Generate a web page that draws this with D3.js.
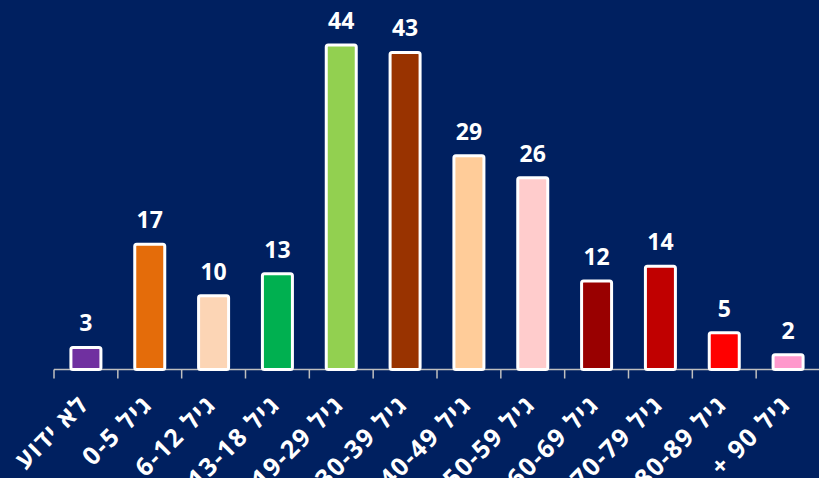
<!DOCTYPE html>
<html>
<head>
<meta charset="utf-8">
<script src="https://cdn.jsdelivr.net/npm/d3@7"></script>
<style>
  html, body { margin: 0; padding: 0; background: #002060; overflow: hidden; }
  svg { display: block; }
</style>
</head>
<body>
<script>
// Width og height
const w = 819;
const h = 478;

// Data - kategorier, værdier og farver
const categories = ["לא ידוע", "גיל 0-5", "גיל 6-12", "גיל 13-18", "גיל 19-29", "גיל 30-39",
  "גיל 40-49", "גיל 50-59", "גיל 60-69", "גיל 70-79", "גיל 80-89", "גיל 90 +"];
const values = [3, 17, 10, 13, 44, 43, 29, 26, 12, 14, 5, 2];
const barColors = ["#7030A0", "#E46C0A", "#FCD5B5", "#00B050", "#92D050", "#993300",
  "#FFCC99", "#FFCCCC", "#990000", "#C00000", "#FF0000", "#FF99CC"];

const font = "'Open Sans', 'DejaVu Sans', sans-serif";

const svg = d3.select("body").append("svg").attr("width", w).attr("height", h);

svg.append("rect").attr("width", w).attr("height", h).attr("fill", "#002060");

// Skalaer
const xScale = d3.scaleBand()
  .domain(categories)
  .range([54, 820])
  .paddingInner(0)
  .paddingOuter(0);

const yScale = d3.scaleLinear()
  .domain([0, 44])
  .range([369.5, 45]);

const barW = 30;

// X-akse med tickmarks ved båndenes start
const axisG = svg.append("g").attr("transform", "translate(0," + yScale(0) + ")");
axisG.append("line")
  .attr("x1", 54).attr("x2", 820)
  .attr("stroke", "#BFBFBF").attr("stroke-width", 1.5);
axisG.selectAll(".tick")
  .data(categories)
  .enter()
  .append("line")
  .attr("x1", d => xScale(d))
  .attr("x2", d => xScale(d))
  .attr("y1", 0).attr("y2", 9)
  .attr("stroke", "#BFBFBF").attr("stroke-width", 1.5);

// Søjler
svg.selectAll("rect.bar")
  .data(values)
  .enter()
  .append("rect")
  .attr("class", "bar")
  .attr("x", (d, i) => xScale(categories[i]) + xScale.bandwidth() / 2 - barW / 2)
  .attr("y", d => yScale(d))
  .attr("width", barW)
  .attr("height", d => yScale(0) - yScale(d))
  .attr("rx", 2)
  .attr("fill", (d, i) => barColors[i])
  .attr("stroke", "#FFFFFF")
  .attr("stroke-width", 3);

// Værdi-labels
svg.selectAll("text.value")
  .data(values)
  .enter()
  .append("text")
  .attr("class", "value")
  .attr("x", (d, i) => xScale(categories[i]) + xScale.bandwidth() / 2)
  .attr("y", d => yScale(d) - 16)
  .attr("text-anchor", "middle")
  .attr("fill", "#FFFFFF")
  .style("font-family", font)
  .style("font-weight", "bold")
  .style("font-size", "23px")
  .text(d => d);

// Kategori-labels, roteret -45 grader
svg.selectAll("text.cat")
  .data(categories)
  .enter()
  .append("text")
  .attr("class", "cat")
  .attr("transform", d => "translate(" + (xScale(d) + xScale.bandwidth() / 2 + 4) + "," + 406 + ") rotate(-45)")
  .attr("text-anchor", "end")
  .attr("fill", "#FFFFFF")
  .style("font-family", font)
  .style("font-weight", "bold")
  .style("font-size", "25px")
  .style("letter-spacing", "1.5px")
  .text(d => "\u202B" + d + "\u202C");
</script>
</body>
</html>
